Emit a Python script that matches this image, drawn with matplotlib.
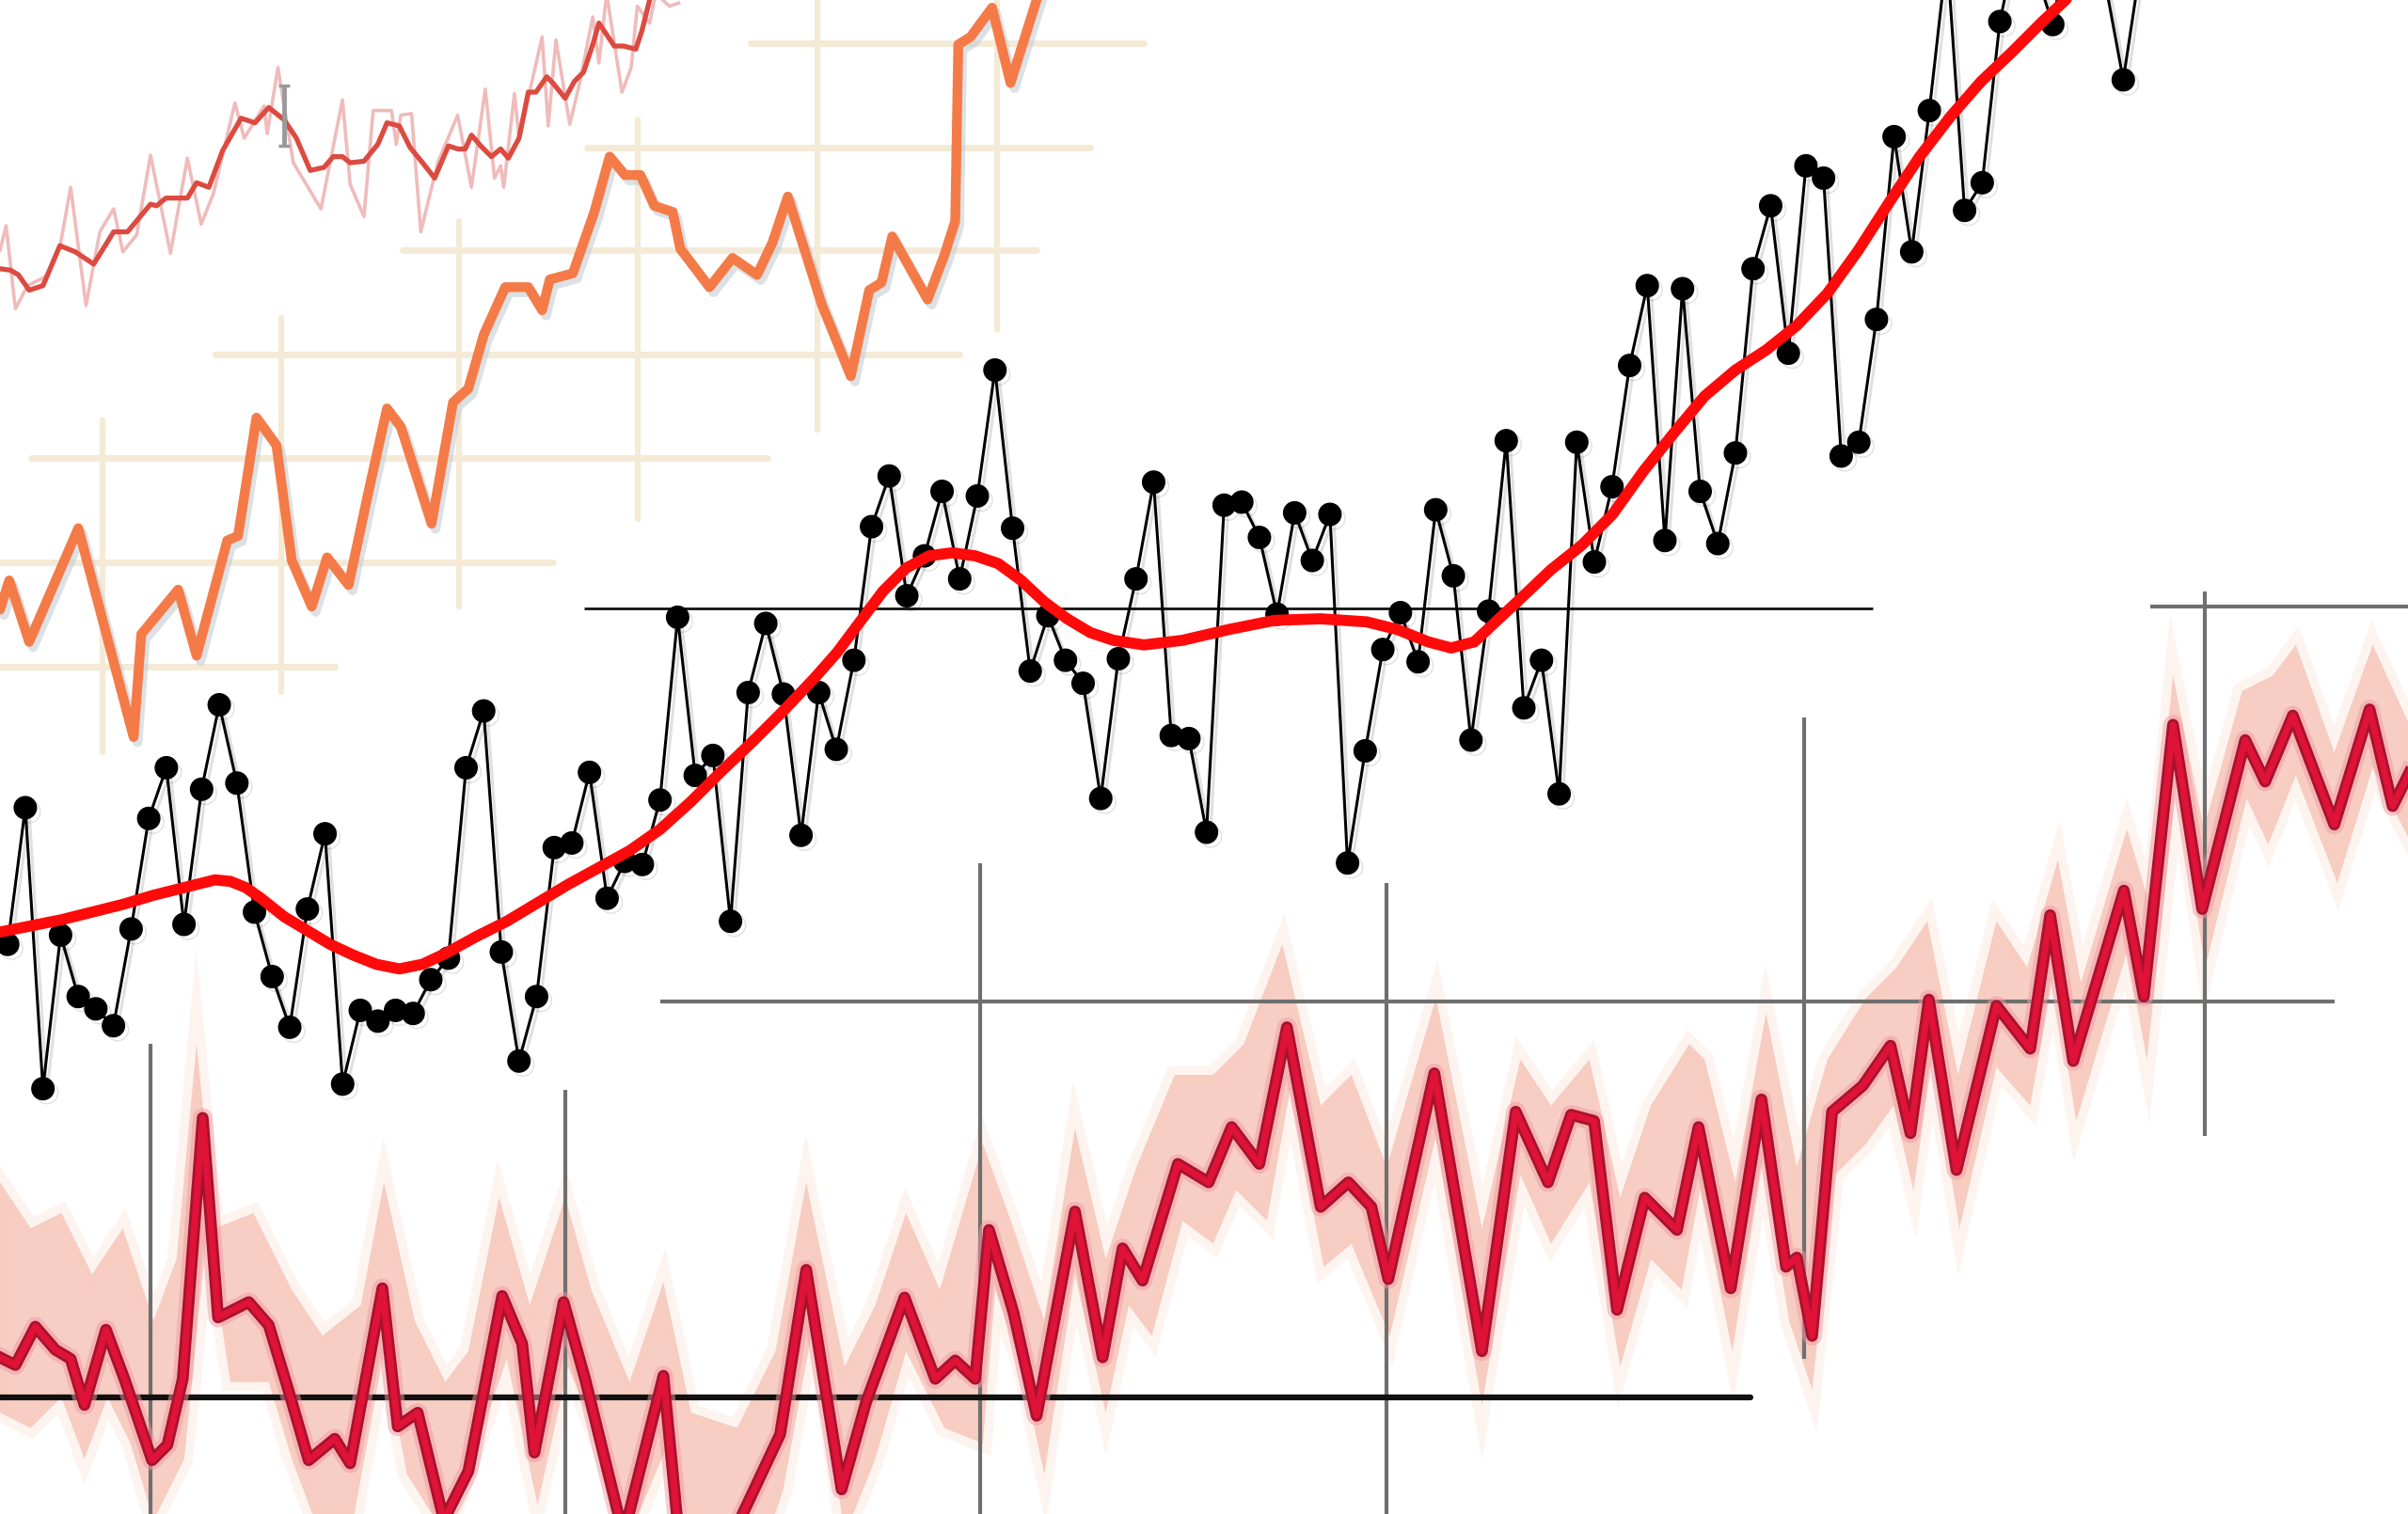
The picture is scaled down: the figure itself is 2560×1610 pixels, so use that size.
import numpy as np
import matplotlib
matplotlib.use("Agg")
import matplotlib.pyplot as plt
import matplotlib.patheffects as pe

# ---------------- top-left faint red record (year, anomaly) ----------------
thin_smooth = [(1850.0, 0.25), (1850.7, 0.24), (1851.2, 0.21), (1851.9, 0.11), (1852.8, 0.14),
               (1853.9, 0.40), (1854.9, 0.36), (1856.1, 0.28), (1857.4, 0.49), (1858.3, 0.49),
               (1859.8, 0.67), (1860.2, 0.66), (1860.8, 0.71), (1861.6, 0.71), (1862.2, 0.71),
               (1862.8, 0.81), (1863.6, 0.78), (1864.5, 1.02), (1865.7, 1.23), (1866.6, 1.20),
               (1867.5, 1.30), (1868.5, 1.22), (1869.3, 1.10), (1870.2, 0.89), (1871.1, 0.91),
               (1871.7, 0.98), (1872.3, 0.98), (1872.8, 0.94), (1873.7, 0.95), (1874.6, 1.06),
               (1875.2, 1.20), (1876.0, 1.18), (1876.7, 1.04), (1877.6, 0.93), (1878.3, 0.84),
               (1879.2, 1.05), (1879.8, 1.03), (1880.3, 1.03), (1880.7, 1.12), (1881.3, 1.05),
               (1882.0, 0.98), (1882.6, 1.03), (1883.1, 0.97), (1883.8, 1.10), (1884.4, 1.40),
               (1884.9, 1.40), (1885.6, 1.50), (1886.0, 1.46), (1886.8, 1.36), (1887.4, 1.47),
               (1888.0, 1.53), (1888.6, 1.71), (1889.0, 1.85), (1890.0, 1.70), (1890.6, 1.70),
               (1891.4, 1.68), (1891.8, 1.80), (1892.3, 2.00), (1893.0, 2.15)]
thin_raw = [(1850.0, 0.37), (1850.4, 0.53), (1851.0, -0.01), (1851.8, 0.14), (1853.0, 0.20),
            (1853.9, 0.39), (1854.6, 0.78), (1855.6, 0.01), (1856.5, 0.49), (1857.4, 0.64),
            (1858.0, 0.36), (1858.9, 0.47), (1859.8, 0.99), (1861.1, 0.35), (1862.2, 0.97),
            (1863.1, 0.54), (1863.9, 0.74), (1865.3, 1.33), (1865.9, 1.10), (1867.2, 1.31),
            (1867.4, 1.13), (1868.1, 1.56), (1869.1, 0.94), (1870.9, 0.64), (1872.3, 1.35),
            (1872.8, 0.80), (1873.7, 0.59), (1874.3, 1.28), (1875.5, 1.28), (1875.8, 1.06),
            (1876.1, 1.25), (1876.8, 1.26), (1877.4, 0.49), (1878.5, 0.94), (1879.8, 1.25),
            (1880.7, 0.78), (1881.6, 1.42), (1882.2, 0.84), (1882.6, 0.92), (1882.8, 0.78),
            (1883.5, 1.39), (1883.8, 1.10), (1885.3, 1.76), (1885.7, 1.18), (1886.2, 1.74),
            (1887.1, 1.19), (1887.7, 1.44), (1888.6, 1.89), (1889.0, 1.59), (1889.5, 2.04),
            (1890.5, 1.40), (1891.1, 1.56), (1891.5, 1.96), (1892.3, 1.85), (1892.7, 2.04),
            (1893.6, 1.96), (1894.2, 1.98)]
thin_errbar = (1868.5, 1.245, 0.195)

# ---------------- orange record on cream grid ----------------
orange = [(1850.0, 0.37), (1850.6, 0.56), (1851.9, 0.16), (1855.1, 0.90), (1858.7, -0.46),
          (1859.2, 0.21), (1861.6, 0.50), (1862.8, 0.07), (1864.8, 0.82), (1865.5, 0.85),
          (1866.7, 1.62), (1868.0, 1.44), (1869.0, 0.69), (1870.3, 0.39), (1871.3, 0.71),
          (1872.7, 0.53), (1874.0, 1.14), (1875.2, 1.68), (1876.1, 1.56), (1878.1, 0.93),
          (1879.5, 1.72), (1880.5, 1.81), (1881.5, 2.16), (1882.9, 2.47), (1884.4, 2.47),
          (1885.3, 2.32), (1885.8, 2.52), (1887.3, 2.56), (1888.7, 2.96), (1889.7, 3.32),
          (1890.7, 3.20), (1891.7, 3.20), (1892.6, 3.00), (1893.8, 2.96), (1894.3, 2.72),
          (1896.2, 2.47), (1897.7, 2.66), (1899.3, 2.55), (1900.3, 2.76), (1901.3, 3.06),
          (1903.5, 2.36), (1905.4, 1.89), (1906.6, 2.45), (1907.4, 2.50), (1908.1, 2.80),
          (1910.4, 2.39), (1911.5, 2.68), (1912.2, 2.90), (1912.4, 4.05), (1913.2, 4.10),
          (1914.6, 4.29), (1915.8, 3.80), (1917.5, 4.34), (1918.5, 4.64)]
cream_h = [(4.06, 1898.9, 1924.5), (3.38, 1888.2, 1921.0), (2.71, 1876.2, 1917.5),
           (2.03, 1864.0, 1912.5), (1.36, 1852.0, 1900.0), (0.68, 1849.0, 1886.0),
           (0.00, 1849.0, 1871.8)]
cream_v = [(1856.7, -0.56, 1.60), (1868.3, -0.17, 2.27), (1879.9, 0.39, 2.90),
           (1891.5, 0.96, 3.56), (1903.2, 1.54, 4.50), (1914.9, 2.19, 4.50)]

# ---------------- black annual dots + smooth ----------------
dot_years = np.arange(1880, 2002)
dot_vals = [-2.19, -1.30, -3.13, -2.13, -2.53, -2.61, -2.72, -2.09, -1.37, -1.04,
            -2.06, -1.18, -0.63, -1.14, -1.98, -2.40, -2.73, -1.96, -1.47, -3.10,
            -2.62, -2.69, -2.62, -2.64, -2.42, -2.28, -1.04, -0.67, -2.24, -2.95,
            -2.53, -1.56, -1.53, -1.07, -1.89, -1.65, -1.67, -1.25, -0.06, -1.09,
            -0.96, -2.04, -0.55, -0.10, -0.56, -1.48, -0.55, -0.92, -0.34, 0.53,
            0.86, 0.08, 0.34, 0.76, 0.19, 0.73, 1.55, 0.52, -0.41, -0.05,
            -0.34, -0.49, -1.24, -0.33, 0.19, 0.82, -0.83, -0.85, -1.46, 0.67,
            0.69, 0.46, -0.04, 0.62, 0.31, 0.61, -1.66, -0.93, -0.27, -0.03,
            -0.35, 0.64, 0.21, -0.86, -0.02, 1.09, -0.65, -0.34, -1.21, 1.08,
            0.30, 0.79, 1.58, 2.10, 0.44, 2.08, 0.76, 0.42, 1.01, 2.21,
            2.62, 1.66, 2.88, 2.80, 0.99, 1.08, 1.88, 3.07, 2.32, 3.24,
            4.26, 2.59, 2.77, 3.82, 4.36, 4.16, 3.80, 4.46, 4.26, 4.06,
            3.44, 4.20]
dot_smooth = [(1879.56, -2.11), (1881.31, -2.07), (1883.05, -2.03), (1884.79, -1.98),
              (1886.53, -1.93), (1888.28, -1.87), (1890.02, -1.82), (1891.76, -1.77),
              (1892.63, -1.78), (1893.50, -1.82), (1894.37, -1.89), (1895.68, -2.01),
              (1896.99, -2.10), (1898.29, -2.19), (1899.60, -2.26), (1900.91, -2.32),
              (1902.21, -2.35), (1903.52, -2.32), (1904.83, -2.25), (1906.57, -2.14),
              (1908.31, -2.04), (1910.05, -1.92), (1911.79, -1.80), (1913.54, -1.69),
              (1915.28, -1.58), (1917.02, -1.44), (1918.76, -1.26), (1920.51, -1.06),
              (1922.25, -0.87), (1923.99, -0.67), (1925.73, -0.46), (1927.04, -0.29),
              (1928.34, -0.09), (1929.65, 0.11), (1930.96, 0.26), (1932.26, 0.34),
              (1933.57, 0.36), (1934.88, 0.34), (1936.18, 0.29), (1937.49, 0.18),
              (1938.80, 0.04), (1940.10, -0.07), (1941.41, -0.16), (1942.72, -0.21),
              (1944.46, -0.24), (1946.64, -0.21), (1949.25, -0.14), (1951.86, -0.08),
              (1954.48, -0.07), (1957.09, -0.09), (1958.83, -0.14), (1960.57, -0.22),
              (1961.88, -0.26), (1963.19, -0.22), (1964.49, -0.08), (1965.80, 0.06),
              (1967.54, 0.25), (1969.29, 0.41), (1971.03, 0.61), (1972.77, 0.89),
              (1974.51, 1.14), (1976.25, 1.38), (1978.00, 1.55), (1979.74, 1.68),
              (1981.48, 1.84), (1983.22, 2.05), (1984.97, 2.33), (1986.71, 2.64),
              (1988.45, 2.94), (1990.19, 3.20), (1991.94, 3.43), (1993.68, 3.62),
              (1995.42, 3.82), (1996.72, 3.96), (1998.02, 4.11)]
dot_zero_span = (1912.7, 1985.8)

# ---------------- crimson record with uncertainty band ----------------
crimson = [(1850.0, 0.26), (1851.0, 0.21), (1852.3, 0.46), (1853.6, 0.31), (1854.6, 0.25),
           (1855.5, -0.05), (1856.9, 0.44), (1858.1, 0.12), (1859.9, -0.41), (1860.9, -0.31),
           (1861.9, 0.12), (1863.2, 1.82), (1864.2, 0.52), (1866.2, 0.62), (1867.5, 0.47),
           (1868.8, 0.04), (1870.1, -0.41), (1871.8, -0.27), (1872.8, -0.43), (1874.9, 0.71),
           (1875.9, -0.19), (1877.2, -0.10), (1878.9, -0.80), (1880.5, -0.48), (1882.7, 0.66),
           (1884.0, 0.35), (1884.8, -0.36), (1886.7, 0.62), (1888.1, 0.12), (1890.6, -0.90),
           (1893.2, 0.14), (1894.2, -0.90), (1896.0, -1.00), (1897.7, -0.90), (1900.8, -0.24),
           (1902.5, 0.83), (1904.8, -0.60), (1906.4, -0.03), (1908.9, 0.65), (1910.9, 0.12),
           (1912.2, 0.24), (1913.5, 0.12), (1914.4, 1.09), (1916.0, 0.55), (1917.5, -0.12),
           (1920.0, 1.21), (1921.8, 0.26), (1923.1, 0.97), (1924.4, 0.76), (1926.7, 1.52),
           (1928.7, 1.40), (1930.2, 1.76), (1932.0, 1.52), (1933.8, 2.41), (1936.0, 1.24),
           (1937.8, 1.40), (1939.3, 1.24), (1940.4, 0.77), (1943.4, 2.11), (1946.5, 0.30),
           (1948.7, 1.86), (1950.8, 1.40), (1952.3, 1.84), (1953.8, 1.80), (1955.3, 0.57),
           (1957.1, 1.30), (1959.2, 1.09), (1960.6, 1.76), (1962.7, 0.71), (1964.7, 1.94),
           (1966.3, 0.85), (1967.0, 0.91), (1968.0, 0.40), (1969.3, 1.86), (1971.3, 2.03),
           (1973.1, 2.29), (1974.4, 1.72), (1975.6, 2.59), (1977.4, 1.48), (1980.0, 2.55),
           (1982.2, 2.27), (1983.5, 3.14), (1985.0, 2.19), (1988.3, 3.30), (1989.6, 2.61),
           (1991.5, 4.38), (1993.4, 3.18), (1996.2, 4.28), (1997.5, 4.01), (1999.3, 4.44),
           (2002.0, 3.73), (2004.3, 4.48), (2005.8, 3.85), (2006.8, 4.05), (2008.0, 4.30)]
band_top = [(1850.0, 1.40), (1852.0, 1.10), (1854.0, 1.20), (1856.0, 0.80), (1858.0, 1.10),
            (1860.0, 0.50), (1861.5, 0.90), (1862.8, 2.30), (1864.0, 1.10), (1866.5, 1.20),
            (1869.0, 0.70), (1871.0, 0.40), (1873.5, 0.60), (1875.0, 1.40), (1877.0, 0.50),
            (1879.0, 0.10), (1880.5, 0.30), (1882.5, 1.30), (1884.5, 0.60), (1886.8, 1.30),
            (1888.5, 0.70), (1891.0, 0.10), (1893.2, 0.75), (1895.0, -0.10), (1898.0, -0.20),
            (1900.5, 0.30), (1902.5, 1.40), (1905.0, 0.20), (1907.0, 0.60), (1909.0, 1.20),
            (1911.2, 0.70), (1914.0, 1.65), (1916.0, 1.10), (1918.0, 0.50), (1920.0, 1.75),
            (1922.0, 0.90), (1924.0, 1.50), (1926.5, 2.10), (1929.0, 2.10), (1931.0, 2.30),
            (1933.5, 2.95), (1936.0, 1.90), (1938.0, 2.10), (1940.3, 1.50), (1943.5, 2.60),
            (1946.5, 1.10), (1949.0, 2.20), (1951.0, 1.90), (1953.5, 2.20), (1955.5, 1.30),
            (1957.5, 1.90), (1960.0, 2.30), (1961.0, 2.20), (1963.0, 1.40), (1965.0, 2.50),
            (1967.0, 1.50), (1969.0, 2.20), (1971.5, 2.60), (1973.5, 2.80), (1975.5, 3.10),
            (1977.5, 2.10), (1980.0, 3.10), (1982.0, 2.80), (1984.0, 3.50), (1985.5, 2.70),
            (1988.5, 3.70), (1990.0, 3.20), (1991.5, 4.70), (1993.5, 3.70), (1996.0, 4.60),
            (1998.0, 4.70), (1999.5, 4.90), (2002.0, 4.20), (2004.5, 4.90), (2006.8, 4.40)]
band_bottom = [(1850.0, -0.10), (1852.0, -0.20), (1854.0, 0.00), (1855.5, -0.40), (1857.0, 0.00),
               (1858.5, -0.30), (1860.0, -0.80), (1862.0, -0.40), (1863.5, 1.10), (1865.0, 0.10),
               (1867.5, 0.10), (1869.0, -0.40), (1870.5, -0.80), (1873.0, -0.80), (1875.0, 0.30),
               (1876.5, -0.50), (1879.0, -0.90), (1883.0, 0.25), (1885.0, -0.70), (1887.0, 0.20),
               (1889.0, -0.30), (1891.0, -0.90), (1893.5, -0.30), (1895.0, -0.90), (1900.0, -0.90),
               (1901.0, -0.60), (1903.0, 0.50), (1905.0, -0.90), (1907.0, -0.40), (1909.0, 0.30),
               (1911.5, -0.20), (1914.0, -0.30), (1914.8, 0.70), (1916.5, 0.20), (1918.0, -0.50),
               (1920.0, 0.80), (1922.0, -0.10), (1923.5, 0.60), (1925.0, 0.40), (1927.0, 1.15),
               (1929.0, 1.00), (1930.5, 1.35), (1932.5, 1.15), (1934.0, 2.00), (1936.2, 0.85),
               (1938.0, 1.00), (1940.5, 0.40), (1943.5, 1.70), (1946.5, -0.05), (1949.0, 1.45),
               (1951.0, 1.00), (1953.5, 1.40), (1955.5, 0.20), (1957.5, 0.90), (1959.5, 0.70),
               (1960.7, 1.35), (1962.8, 0.30), (1964.8, 1.55), (1966.5, 0.50), (1968.0, 0.05),
               (1969.5, 1.45), (1971.5, 1.65), (1973.3, 1.90), (1974.6, 1.35), (1975.8, 2.20),
               (1977.6, 1.10), (1980.0, 2.15), (1982.2, 1.90), (1983.7, 2.75), (1985.2, 1.80),
               (1988.5, 2.90), (1989.8, 2.20), (1991.7, 4.00), (1993.6, 2.80), (1996.3, 3.90),
               (1997.7, 3.60), (1999.5, 4.05), (2002.2, 3.35), (2004.5, 4.10), (2006.8, 3.65)]
grey_h = [(2.58, 1893.0, 2002.0), (5.15, 1990.0, 2008.0)]
grey_v = [(1859.8, -0.8, 2.3), (1886.8, -0.8, 2.0), (1913.8, -0.8, 3.48),
          (1940.3, -0.8, 3.35), (1967.5, 0.25, 4.43), (1993.6, 1.70, 5.25)]
black_zero_span = (1849.0, 1964.0)


def overlay(fig, xlim, ylim, z):
    ax = fig.add_axes([0, 0, 1, 1], zorder=z)
    ax.set_xlim(*xlim)
    ax.set_ylim(*ylim)
    ax.axis("off")
    ax.patch.set_alpha(0)
    return ax


def xy(pts):
    arr = np.array(pts)
    return arr[:, 0], arr[:, 1]


fig = plt.figure(figsize=(25.6, 16.1), dpi=100, facecolor="white")

# layer 1: faint red record
ax1 = overlay(fig, (1850, 2006.8), (-7.86, 2.0), 1)
rx, ry = xy(thin_raw)
ax1.plot(rx, ry, color="#efb4b4", lw=2.6, alpha=0.9, solid_joinstyle="round")
sx, sy = xy(thin_smooth)
ax1.plot(sx, sy, color="#dc4a40", lw=3.8, solid_joinstyle="round")
ex, ey, ee = thin_errbar
ax1.errorbar([ex], [ey], yerr=[ee], color="#9a9a9a", lw=3.5, capsize=4, capthick=2.5)

# layer 2: orange record + cream grid
ax2 = overlay(fig, (1850, 2006.8), (-5.52, 4.34), 2)
for lvl, x0, x1 in cream_h:
    ax2.hlines(lvl, x0, x1, color="#f4ead6", lw=5, capstyle="round")
for xv, y0, y1 in cream_v:
    ax2.vlines(xv, y0, y1, color="#f4ead6", lw=4.5, capstyle="round")
ox, oy = xy(orange)
ax2.plot(ox, oy, color="#f47b47", lw=7.5, solid_joinstyle="round", solid_capstyle="round",
         path_effects=[pe.SimpleLineShadow(offset=(3, -4), shadow_color="#c5ced6", alpha=0.6),
                       pe.Normal()])

# layer 3: crimson record with band and grey grid
ax3 = overlay(fig, (1850, 2006.8), (-0.76, 9.10), 3)
for lvl, x0, x1 in grey_h:
    ax3.hlines(lvl, x0, x1, color="#6f6f6f", lw=3)
for xv, y0, y1 in grey_v:
    ax3.vlines(xv, y0, y1, color="#6f6f6f", lw=3)
tx, ty = xy(band_top)
bx, by = xy(band_bottom)
band_x = np.concatenate([tx, bx[::-1]])
band_y = np.concatenate([ty, by[::-1]])
ax3.fill(band_x, band_y, color="#f7c6b8", alpha=0.35, lw=14, edgecolor="#fbe0d6")
ax3.fill(band_x, band_y, color="#f4b2a4", alpha=0.5, lw=0)
ax3.hlines(0, *black_zero_span, color="#111111", lw=4.5, capstyle="round")
cx, cy = xy(crimson)
ax3.plot(cx, cy, color="#f39aa4", lw=15, alpha=0.5, solid_joinstyle="round")
ax3.plot(cx, cy, color="#a8122c", lw=9, solid_joinstyle="round")
ax3.plot(cx, cy, color="#df1238", lw=5, solid_joinstyle="round")

# layer 4: black annual dots with red smooth
ax4 = overlay(fig, (1879.564, 2016.15), (-5.90, 3.96), 4)
ax4.hlines(0, *dot_zero_span, color="#111111", lw=2)
ax4.plot(dot_years, dot_vals, color="black", lw=2.2, marker="o", markersize=17,
         path_effects=[pe.SimpleLineShadow(offset=(3, -3), alpha=0.12), pe.Normal()])
mx, my = xy(dot_smooth)
ax4.plot(mx, my, color="#ff0a0a", lw=8.5, solid_joinstyle="round", solid_capstyle="round")

fig.savefig("out.png", dpi=100, facecolor="white")
